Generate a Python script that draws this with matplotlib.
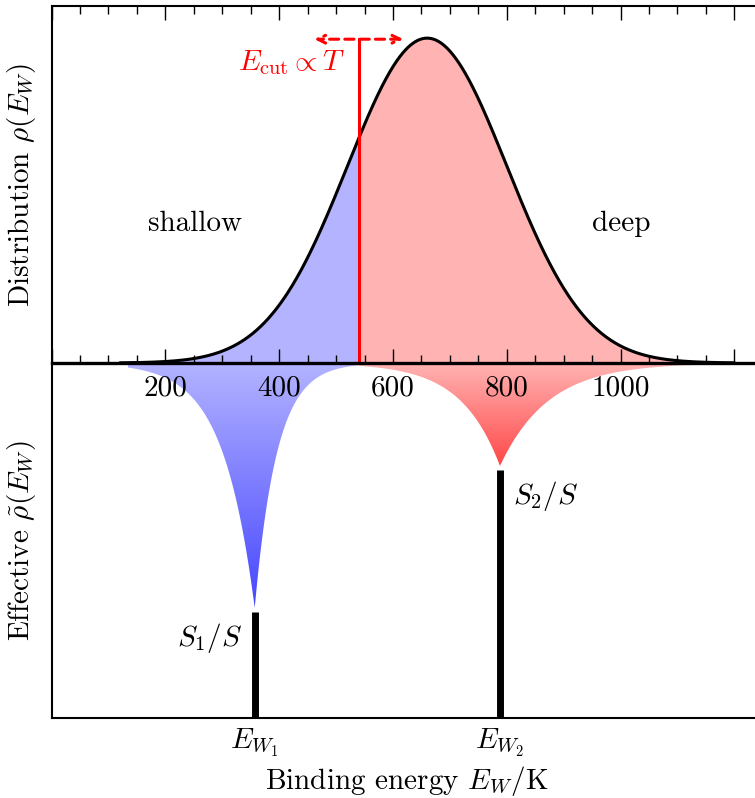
import numpy as np
import matplotlib
matplotlib.use("Agg")
import matplotlib.pyplot as plt
from matplotlib.colors import LinearSegmentedColormap

plt.rcParams['font.family'] = 'serif'
plt.rcParams['font.serif'] = ['cmr10']
plt.rcParams['mathtext.fontset'] = 'cm'
plt.rcParams['axes.unicode_minus'] = False
plt.rcParams['axes.formatter.use_mathtext'] = True

FS = 21

# ---- data (energies in K) ----
gauss_center = 660.0
gauss_sigma = 140.0
gauss_peak = 0.91
curve_range = [120.0, 1200.0]
E_cut = 540.0
cut_arrow = [462.0, 618.0]
E_W1 = 357.0
E_W2 = 788.0
S1_frac = 0.30
S2_frac = 0.70
shallow_range = [134.0, E_cut]
deep_range = [E_cut, 1175.0]
shallow_decay = [56.0, 39.0]   # left / right decay widths of the effective peak
deep_decay = [69.0, 85.0]
major_ticks = [0, 200, 400, 600, 800, 1000, 1200]
major_labels = ['', '200', '400', '600', '800', '1000', '']
minor_ticks = list(range(50, 1250, 50))
x_limits = [0.0, 1250.0]

fig = plt.figure(figsize=(7.55, 7.98), dpi=100)
W, H = 755.0, 798.0
left = 51.6 / W
px_per_K = 0.569
width = (x_limits[1] - x_limits[0]) * px_per_K / W
y_top, y_mid, y_bot = 6.0, 363.0, 718.0

ax_top = fig.add_axes([left, 1 - y_mid / H, width, (y_mid - y_top) / H])
ax_bot = fig.add_axes([left, 1 - y_bot / H, width, (y_bot - y_mid) / H])
ax_top.set_zorder(3)
ax_top.patch.set_visible(False)

# ---------------- top panel ----------------
x = np.linspace(curve_range[0], curve_range[1], 800)
rho = gauss_peak * np.exp(-(x - gauss_center) ** 2 / (2 * gauss_sigma ** 2))
ax_top.fill_between(x, 0, rho, where=x <= E_cut, color='#b3b3ff', lw=0, interpolate=True)
ax_top.fill_between(x, 0, rho, where=x >= E_cut, color='#ffb3b3', lw=0, interpolate=True)
ax_top.plot(x, rho, color='black', lw=2.2, solid_capstyle='round')

arrow_y = 0.907
ax_top.plot([E_cut, E_cut], [0, arrow_y], color='red', lw=2.2)
ax_top.annotate('', xy=(cut_arrow[0], arrow_y), xytext=(cut_arrow[1], arrow_y),
                arrowprops=dict(arrowstyle='<->', linestyle=(0, (3, 2)), color='red',
                                lw=2.2, shrinkA=0, shrinkB=0, mutation_scale=14))
ax_top.text(516, 0.843, r'$E_{\rm cut}\propto T$', color='red', fontsize=FS,
            ha='right', va='center')
ax_top.text(252, 0.37, 'shallow', fontsize=FS, ha='center', va='baseline')
ax_top.text(1001, 0.37, 'deep', fontsize=FS, ha='center', va='baseline')

ax_top.set_xlim(*x_limits)
ax_top.set_ylim(0, 1)
ax_top.set_xticks(major_ticks)
ax_top.set_xticklabels(major_labels)
ax_top.set_xticks(minor_ticks, minor=True)
ax_top.tick_params(axis='x', which='both', direction='in', top=True, bottom=True,
                   labelsize=FS, pad=9, width=1.0)
ax_top.tick_params(axis='x', which='major', length=10)
ax_top.tick_params(axis='x', which='minor', length=6)
ax_top.set_yticks([])
ax_top.spines['right'].set_visible(False)
ax_top.spines['bottom'].set_linewidth(2.4)
ax_top.spines['top'].set_linewidth(1.5)
ax_top.spines['left'].set_linewidth(1.5)
ax_top.set_ylabel(r'Distribution $\rho(E_W)$', fontsize=FS)

# ---------------- bottom panel ----------------
def effective(xr, center, depth, decay):
    xs = np.linspace(xr[0], xr[1], 1200)
    xs = np.sort(np.append(xs, center))
    lam = np.where(xs < center, decay[0], decay[1])
    ys = -depth * np.exp(-np.abs(xs - center) / lam)
    return xs, ys

blue_cmap = LinearSegmentedColormap.from_list('b', ['#4646ff', '#b3b3ff'])
red_cmap = LinearSegmentedColormap.from_list('r', ['#ff4848', '#ffb3b3'])

for xr, center, frac, decay, cmap in [
        (shallow_range, E_W1, S1_frac, shallow_decay, blue_cmap),
        (deep_range, E_W2, S2_frac, deep_decay, red_cmap)]:
    depth = 1 - frac - 0.01
    xs, ys = effective(xr, center, depth, decay)
    poly = ax_bot.fill_between(xs, ys, 0, color='none', lw=0)
    grad = np.linspace(0, 1, 256).reshape(-1, 1)
    im = ax_bot.imshow(grad, cmap=cmap, aspect='auto', origin='lower',
                       extent=[xr[0], xr[1], -depth, 0], zorder=1)
    path = poly.get_paths()[0]
    im.set_clip_path(path, transform=ax_bot.transData)

ax_bot.plot([E_W1, E_W1], [-1, -1 + S1_frac], color='black', lw=5, solid_capstyle='butt')
ax_bot.plot([E_W2, E_W2], [-1, -1 + S2_frac], color='black', lw=5, solid_capstyle='butt')
ax_bot.text(335, -0.775, r'$S_1/S$', fontsize=FS, ha='right', va='center')
ax_bot.text(811, -0.375, r'$S_2/S$', fontsize=FS, ha='left', va='center')

ax_bot.set_xlim(*x_limits)
ax_bot.set_ylim(-1, 0)
ax_bot.set_xticks([E_W1, E_W2])
ax_bot.set_xticklabels([r'$E_{W_1}$', r'$E_{W_2}$'])
ax_bot.tick_params(axis='x', length=0, labelsize=FS, pad=6)
ax_bot.set_yticks([])
ax_bot.spines['right'].set_visible(False)
ax_bot.spines['top'].set_visible(False)
ax_bot.spines['bottom'].set_linewidth(1.5)
ax_bot.spines['left'].set_linewidth(1.5)
ax_bot.set_ylabel(r'Effective $\tilde{\rho}(E_W)$', fontsize=FS)

fig.text(407 / W, 1 - 789 / H, r'Binding energy $E_W/\mathrm{K}$', fontsize=FS,
         ha='center', va='baseline')

# align the two y labels
ax_top.yaxis.set_label_coords(-0.019, 0.5)
ax_bot.yaxis.set_label_coords(-0.019, 0.5)

fig.savefig('out.png', dpi=100)
